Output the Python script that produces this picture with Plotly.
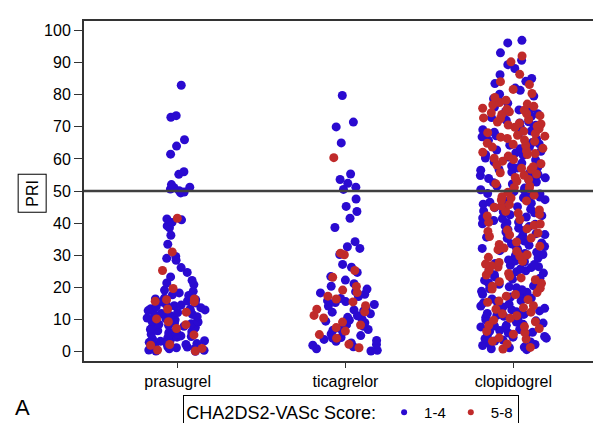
import plotly.graph_objects as go

categories = ["prasugrel", "ticagrelor", "clopidogrel"]
series_names = ["1-4", "5-8"]
legend_title = "CHA2DS2-VASc Score:"

# PRI values
prasugrel_low = [83, 73.5, 73, 66, 64, 61.5, 56, 55.2, 52, 51, 50.6, 50.1, 49.7, 49.4, 51.2,
                 41.3, 41, 40.2, 39.1, 38.5, 36.2, 33.4, 29.6, 29, 28.4, 26.1, 24.6, 23.2, 22.1, 21.3,
                 20.8, 19.1, 18.2, 17.4, 16.6, 16.1, 15.4, 15.1, 14.6, 14.2, 13.9, 13.6, 13.1, 12.9, 12.4,
                 12.1, 11.8, 11.4, 11.1, 10.8, 10.4, 10.1, 9.8, 9.4, 9.1, 8.8, 8.4, 8.1, 7.8, 7.4,
                 7.1, 6.8, 6.4, 6.1, 5.8, 5.4, 5.1, 4.8, 4.4, 4.1, 3.8, 3.4, 3.1, 2.8, 2.4,
                 2.1, 1.8, 1.4, 1.1, 0.8, 0.4, 0.1, 0, 0.3, 0.9, 1.3, 2.2, 3.3, 4.6, 5.3,
                 6.2, 7.3, 8.6, 9.3, 10.6, 11.5, 12.7, 13.3, 14.4, 15.7, 16.3, 17.6, 18.7]
prasugrel_high = [41.5, 31, 25.2, 19.6, 16.1, 15.6, 15.4, 12.2, 10.1, 9.2, 8.3, 7.1, 5.1,
                  2.1, 1.9, 0.9, 0.4, 0.1, 16.3, 13.2]
ticagrelor_low = [79.8, 71.5, 70, 65, 55.3, 53.6, 52.4, 51.2, 50.5, 47.5, 45.2, 43.6, 41.5,
                  38.6, 34.2, 32.6, 32.1, 30.2, 27.1, 26.2, 24.6, 23.3, 22.2, 21.1, 20.3, 19.4,
                  18.6, 17.8, 17.1, 16.5, 15.8, 15.2, 14.6, 14.1, 13.4, 12.9, 12.2, 11.7, 11.1,
                  10.6, 10.1, 9.4, 8.9, 8.3, 7.8, 7.2, 6.6, 6.1, 5.4, 4.9, 4.3, 3.7, 3.1, 2.6,
                  2.1, 1.4, 0.8, 0.3, 0.1, 1.9, 4.1, 6.8, 9.7, 12.6, 15.5, 18.2, 3.4]
ticagrelor_high = [60.4, 30.6, 30.1, 25.2, 23.1, 20.2, 18.3, 17.2, 15.4, 13.1, 12.3, 10.4,
                   8.2, 6.3, 4.1, 2.2, 1.1, 19.1, 16.3, 14.2, 11.2, 9.1, 7.4, 5.2]
clopidogrel_low = [97, 96.2, 93.1, 90.8, 89.4, 88.2, 86.3, 85.1, 84.2, 83.5, 82.1, 81.4, 80.2,
                   79.6, 78.8, 78.1, 77.4, 76.2, 75.9, 74.8, 74.1, 73.3, 72.9, 71.6, 71.2, 70.5,
                   69.8, 69.1, 68.3, 67.7, 66.9, 66.2, 65.8, 64.7, 64.3, 63.2, 62.8, 61.9, 61.3,
                   60.6, 59.7, 59.1, 58.4, 57.8, 57.2, 56.5, 55.9, 55.3, 54.6, 54.1, 53.4, 52.8,
                   52.2, 51.5, 50.9, 50.4, 49.8, 49.2, 48.6, 48.1, 47.3, 46.8, 46.2, 45.5, 45.1,
                   44.3, 43.8, 43.2, 42.6, 41.9, 41.4, 40.8, 40.3, 39.6, 39.1, 38.4, 37.9, 37.2,
                   36.7, 36.1, 35.6, 34.9, 34.4, 33.8, 33.1, 32.7, 32.1, 31.4, 30.9, 30.2, 29.8,
                   29.1, 28.5, 27.9, 27.4, 26.8, 26.1, 25.7, 25.1, 24.4, 23.9, 23.2, 22.8, 22.1,
                   21.6, 20.9, 20.4, 19.8, 19.2, 18.7, 18.1, 17.4, 16.9, 16.3, 15.8, 15.1, 14.7,
                   14.1, 13.4, 12.9, 12.3, 11.8, 11.2, 10.6, 10.1, 9.5, 9.1, 8.4, 7.9, 7.3, 6.8,
                   6.2, 5.7, 5.1, 4.6, 4.1, 3.5, 2.9, 2.4, 1.8, 1.3, 0.8, 72.1, 68.7, 65.1, 61.1,
                   57.4, 53.9, 50.2, 46.5, 43.5, 40.1, 36.4, 32.4, 28.2, 24.8, 21.3, 17.8, 14.4,
                   11.5, 8.8, 5.4, 2.1, 0.5, 63.8, 55.1, 47.9, 39.8, 31.8, 22.5, 13.8, 6.5, 3.2,
                   1.1, 9.8, 15.5, 27.1, 35.2, 44.8, 58.7, 67.2, 75.3, 70.1, 62.4, 54.8, 49.1,
                   42.3, 37.6, 33.5, 29.4, 25.4, 20.1, 16.6, 12.6, 8.1, 4.4, 1.5, 60.3, 52.6,
                   45.9, 38.9, 30.5, 23.6, 18.4, 10.9, 7.6, 3.9, 56.7, 41.6, 26.4, 19.5, 5.9]
clopidogrel_high = [92.1, 90.3, 86.4, 84.1, 83.2, 81.7, 80.4, 79.2, 78.3, 77.6, 77.1, 76.4, 75.8,
                    75.2, 74.7, 74.1, 73.5, 72.8, 72.3, 71.5, 70.9, 70.2, 69.4, 68.6, 67.9, 67.1,
                    66.4, 65.5, 64.9, 64.2, 63.3, 62.5, 61.7, 60.9, 60.2, 59.3, 58.5, 57.6, 56.8,
                    55.7, 54.9, 54.2, 53.1, 52.3, 51.6, 50.8, 49.6, 48.7, 47.8, 46.9, 45.8, 44.9,
                    44.1, 43.1, 42.2, 41.1, 40.2, 39.3, 38.2, 37.4, 36.3, 35.3, 34.1, 33.3, 32.2,
                    31.2, 30.1, 29.3, 28.1, 27.2, 26.3, 25.2, 24.3, 23.4, 22.3, 21.2, 20.3, 19.4,
                    18.3, 17.2, 16.1, 15.3, 14.2, 13.1, 12.2, 11.1, 10.3, 9.2, 8.1, 7.1, 6.2, 5.3,
                    4.2, 3.1, 2.3, 1.2, 0.7, 76.9, 73.9, 71.1, 68.2, 65.9, 62.1, 58.1, 55.3, 51.1,
                    47.2, 43.7, 39.7, 35.8, 31.7, 27.7, 23.8, 19.7, 15.7, 11.7, 7.7, 3.8, 74.4,
                    70.6, 66.8, 63.7, 59.8, 45.3, 37.8, 29.7, 21.7, 13.6, 5.8, 75.5, 72.6, 69.9,
                    67.4, 64.6, 61.4, 57.1, 53.6, 48.2, 42.7, 36.9, 32.8, 26.7, 22.9, 17.7, 9.7]
threshold = 50
y_ticks = list(range(0, 101, 10))

low_groups = [prasugrel_low, ticagrelor_low, clopidogrel_low]
high_groups = [prasugrel_high, ticagrelor_high, clopidogrel_high]
colors = ["#2a0ad0", "#c02a2a"]

fig = go.Figure()
for groups, color, name in [(low_groups, colors[0], series_names[0]),
                            (high_groups, colors[1], series_names[1])]:
    xs, ys = [], []
    for cat, vals in zip(categories, groups):
        xs += [cat] * len(vals)
        ys += vals
    fig.add_trace(go.Box(
        x=xs, y=ys, name=name, boxpoints="all", jitter=1, pointpos=0,
        fillcolor="rgba(0,0,0,0)", line=dict(width=0, color="rgba(0,0,0,0)"),
        marker=dict(color=color, size=9, opacity=1),
        showlegend=False, hoveron="points"))
    fig.add_trace(go.Scatter(x=[None], y=[None], mode="markers", name=name,
                             marker=dict(color=color, size=6)))

fig.add_shape(type="line", xref="paper", x0=0, x1=1, yref="y", y0=threshold, y1=threshold,
              line=dict(color="#404040", width=2.5), layer="above")

fig.add_annotation(text="PRI", textangle=-90, xref="paper", yref="paper",
                   x=-0.1, y=0.494, xanchor="center", yanchor="middle",
                   showarrow=False, font=dict(size=16, color="black"),
                   bordercolor="black", borderwidth=1, borderpad=5)
fig.add_annotation(text="A", xref="paper", yref="paper", x=-0.118, y=-0.137,
                   xanchor="center", yanchor="middle",
                   showarrow=False, font=dict(size=22, color="black"))

fig.update_layout(
    width=601, height=423,
    margin=dict(l=76, r=0, t=13, b=60),
    paper_bgcolor="white", plot_bgcolor="white",
    font=dict(family="Liberation Sans, Arial, sans-serif", size=16, color="black"),
    boxmode="overlay", boxgap=0.42,
    xaxis=dict(type="category", categoryorder="array", categoryarray=categories,
               range=[-0.558, 2.558], showline=True, mirror=True, linecolor="#333",
               linewidth=2, ticks="outside", ticklen=5, tickcolor="#333",
               showgrid=False, zeroline=False),
    yaxis=dict(range=[-3.03, 103.03], tickvals=y_ticks, showline=True, mirror=True,
               linecolor="#333", linewidth=2, ticks="outside", ticklen=8, tickcolor="#333",
               showgrid=False, zeroline=False),
    legend=dict(orientation="h", x=0.19, y=-0.1, xanchor="left", yanchor="top",
                title=dict(text=legend_title), bordercolor="black", borderwidth=1,
                font=dict(size=15), itemwidth=30, tracegroupgap=0),
)

fig.write_html("out.html")
